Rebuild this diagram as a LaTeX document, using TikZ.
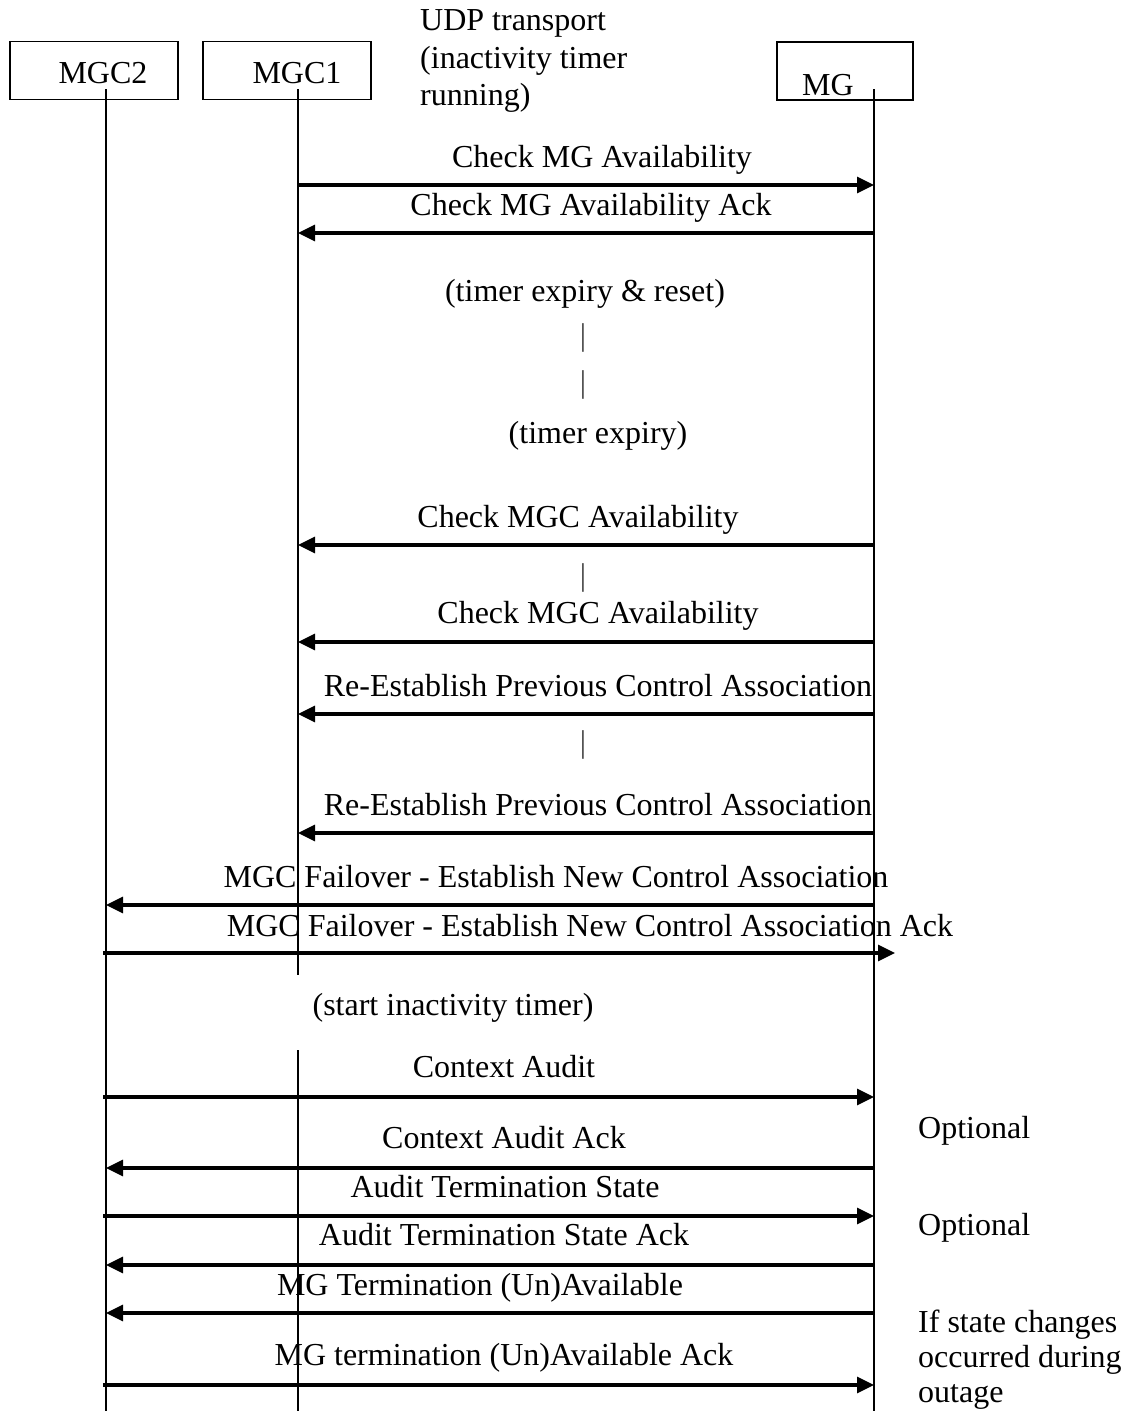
\documentclass[tikz,border=0pt]{standalone}
\usepackage{fontspec}
\setmainfont{Liberation Serif}
\usetikzlibrary{arrows.meta}
\begin{document}
\begin{tikzpicture}[x=1pt,y=-1pt,
  font=\fontsize{32}{37.5}\selectfont,
  entity/.style={draw,line width=1.6pt,minimum height=58pt,inner sep=0pt},
  life/.style={line width=1.6pt},
  msg/.style={line width=3.2pt,-{Triangle[length=17pt,width=16pt]}},
  lbl/.style={anchor=base,inner sep=0pt},
  note/.style={anchor=base west,inner sep=0pt},
  tick/.style={inner sep=0pt,font=\fontsize{31.5}{37.5}\selectfont\color{black!75}},
]
\useasboundingbox (0,0) rectangle (1127,1411);

% entity boxes and their names
\node[entity,minimum width=168pt] (mgc2box) at (94,70.5) {};
\node[entity,minimum width=168pt] (mgc1box) at (287,70.5) {};
\node[entity,minimum width=136pt] (mgbox)   at (845,71) {};
\node[lbl] (mgc2name) at (103,83) {MGC2};
\node[lbl] (mgc1name) at (297,83) {MGC1};
\node[lbl] (mgname)   at (828,95) {MG};

% lifeline positions
\coordinate (mgc2) at (106,89);
\coordinate (mgc1) at (298,89);
\coordinate (mg)   at (874,89);
\coordinate (bottom) at (0,1411);
\coordinate (gapA) at (0,975);
\coordinate (gapB) at (0,1050);
\coordinate (over) at (895,0);

\draw[life] (mgc2) -- (mgc2 |- bottom);
\draw[life] (mgc1) -- (mgc1 |- gapA);
\draw[life] (mgc1 |- gapB) -- (mgc1 |- bottom);
\draw[life] (mg) -- (mg |- bottom);

% transport note
\node[anchor=north west,inner sep=0pt,align=left] (udp) at (420,9.5)
  {UDP transport\\(inactivity timer\\running)};

% message rows
\coordinate (r1) at (0,185);
\coordinate (r2) at (0,233);
\coordinate (r3) at (0,545);
\coordinate (r4) at (0,642);
\coordinate (r5) at (0,714);
\coordinate (r6) at (0,833);
\coordinate (r7) at (0,905);
\coordinate (r8) at (0,953);
\coordinate (r9) at (0,1097);
\coordinate (r10) at (0,1168);
\coordinate (r11) at (0,1216);
\coordinate (r12) at (0,1265);
\coordinate (r13) at (0,1313);
\coordinate (r14) at (0,1385);

\draw[msg] (mgc1 |- r1) -- (mg |- r1);
\node[lbl] (l1) at (602,167) {Check MG Availability};
\draw[msg] (mg |- r2) -- (mgc1 |- r2);
\node[lbl] (l2) at (591,215) {Check MG Availability Ack};

\node[lbl] (t1) at (585,301) {(timer expiry \& reset)};
\node[tick] (b1) at (583,338) {|};
\node[tick] (b2) at (583,385) {|};
\node[lbl] (t2) at (598,443) {(timer expiry)};

\draw[msg] (mg |- r3) -- (mgc1 |- r3);
\node[lbl] (l3) at (578,527) {Check MGC Availability};
\node[tick] (b3) at (583,578) {|};
\draw[msg] (mg |- r4) -- (mgc1 |- r4);
\node[lbl] (l4) at (598,623) {Check MGC Availability};
\draw[msg] (mg |- r5) -- (mgc1 |- r5);
\node[lbl] (l5) at (598,696) {Re-Establish Previous Control Association};
\node[tick] (b4) at (583,745) {|};
\draw[msg] (mg |- r6) -- (mgc1 |- r6);
\node[lbl] (l6) at (598,815) {Re-Establish Previous Control Association};

\draw[msg] (mg |- r7) -- (mgc2 |- r7);
\node[lbl] (l7) at (556,887) {MGC Failover - Establish New Control Association};
\draw[msg] ([xshift=-3pt]mgc2 |- r8) -- (over |- r8);
\node[lbl] (l8) at (590,936) {MGC Failover - Establish New Control Association Ack};

\node[lbl] (t3) at (453,1015) {(start inactivity timer)};

\draw[msg] ([xshift=-3pt]mgc2 |- r9) -- (mg |- r9);
\node[lbl] (l9) at (504,1077) {Context Audit};
\draw[msg] (mg |- r10) -- (mgc2 |- r10);
\node[lbl] (l10) at (504,1148) {Context Audit Ack};
\draw[msg] ([xshift=-3pt]mgc2 |- r11) -- (mg |- r11);
\node[lbl] (l11) at (505,1197) {Audit Termination State};
\draw[msg] (mg |- r12) -- (mgc2 |- r12);
\node[lbl] (l12) at (504,1245) {Audit Termination State Ack};
\draw[msg] (mg |- r13) -- (mgc2 |- r13);
\node[lbl] (l13) at (480,1295) {MG Termination (Un)Available};
\draw[msg] ([xshift=-3pt]mgc2 |- r14) -- (mg |- r14);
\node[lbl] (l14) at (504,1365) {MG termination (Un)Available Ack};

% side notes
\node[note] (opt1) at (918,1138) {Optional};
\node[note] (opt2) at (918,1235) {Optional};
\node[anchor=north west,inner sep=0pt,align=left,
      font=\fontsize{32}{35}\selectfont] (cond) at (918,1310)
  {If state changes\\occurred during\\outage};
\end{tikzpicture}
\end{document}
